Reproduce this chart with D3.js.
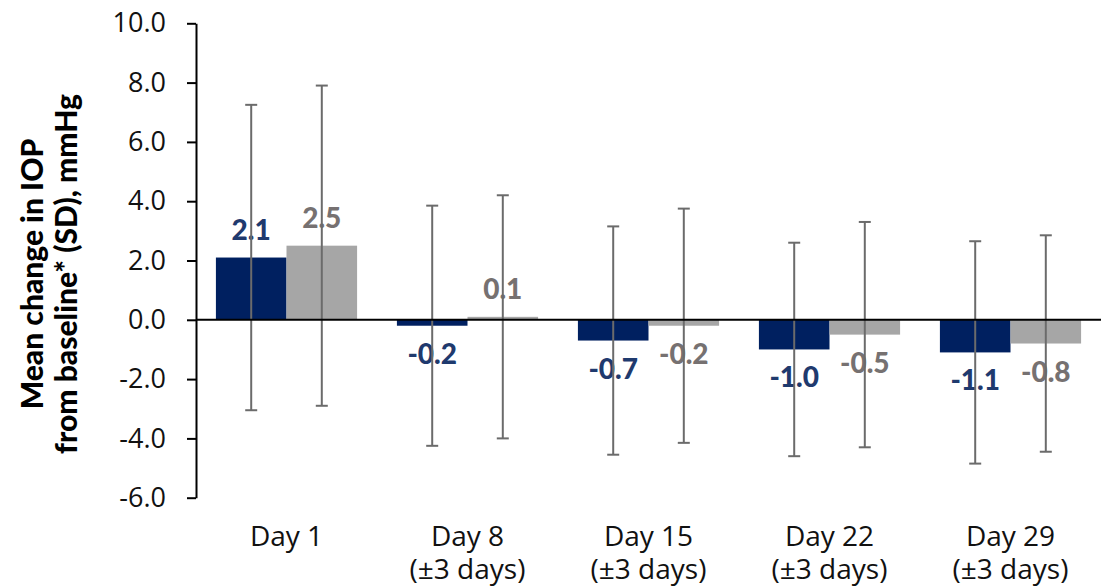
<!DOCTYPE html>
<html>
<head>
<meta charset="utf-8">
<script src="https://cdn.jsdelivr.net/npm/d3@7"></script>
<style>
  html, body { margin: 0; padding: 0; background: #ffffff; }
  svg { display: block; font-family: "Open Sans", Lato, sans-serif; }
</style>
</head>
<body>
<svg id="chart" width="1107" height="587"></svg>
<script>
// Visit labels (one entry per line of text under each group)
const categories = ["Day 1", "Day 8", "Day 15", "Day 22", "Day 29"];
const categorySubLabels = ["", "(\u00b13 days)", "(\u00b13 days)", "(\u00b13 days)", "(\u00b13 days)"];

// Two treatment arms: mean change from baseline and its SD
const seriesKeys = ["arm1", "arm2"];
const meanArm1 = [2.1, -0.2, -0.7, -1.0, -1.1];
const sdArm1   = [5.15, 4.05, 3.85, 3.6, 3.75];
const meanArm2 = [2.5, 0.1, -0.2, -0.5, -0.8];
const sdArm2   = [5.4, 4.1, 3.95, 3.8, 3.65];

// Y axis ticks
const yTicks = [-6, -4, -2, 0, 2, 4, 6, 8, 10];

const colors = { arm1: "#002060", arm2: "#A6A6A6" };
const labelColors = { arm1: "#1F3A6E", arm2: "#767171" };

const rows = categories.map((c, i) => ({
  category: c,
  sub: categorySubLabels[i],
  values: [
    { key: "arm1", mean: meanArm1[i], sd: sdArm1[i] },
    { key: "arm2", mean: meanArm2[i], sd: sdArm2[i] }
  ]
}));

const fmt = v => d3.format(".1f")(v).replace("\u2212", "-");

const svg = d3.select("#chart");

const x0 = d3.scaleBand()
  .domain(categories)
  .range([196, 1101])
  .paddingInner(0.22)
  .paddingOuter(0.11);

const x1 = d3.scaleBand()
  .domain(seriesKeys)
  .range([0, x0.bandwidth()])
  .padding(0);

const y = d3.scaleLinear()
  .domain([-6, 10])
  .range([497.7, 23.3]);

// Y axis
const yAxis = d3.axisLeft(y)
  .tickValues(yTicks)
  .tickFormat(fmt)
  .tickSize(9)
  .tickSizeOuter(0)
  .tickPadding(21);

const gy = svg.append("g")
  .attr("transform", "translate(196,0)")
  .call(yAxis);
gy.select(".domain").attr("stroke", "#000").attr("stroke-width", 2);
gy.selectAll(".tick line").attr("stroke", "#000").attr("stroke-width", 2);
gy.selectAll(".tick text")
  .attr("fill", "#111")
  .style("font-size", "27px")
  .style("font-family", "'Open Sans', Lato, sans-serif");

// Y axis title (two lines)
const title = svg.append("text")
  .attr("transform", "translate(0,274) rotate(-90)")
  .attr("text-anchor", "middle")
  .style("font-family", "Lato, 'Open Sans', sans-serif")
  .style("font-size", "30px")
  .style("font-weight", 900)
  .attr("fill", "#000");
title.append("tspan").attr("x", 0).attr("y", 43).text("Mean change in IOP");
title.append("tspan").attr("x", 0).attr("y", 77).text("from baseline* (SD), mmHg");

// Bars
const groups = svg.append("g")
  .selectAll("g")
  .data(rows)
  .join("g")
  .attr("transform", d => `translate(${x0(d.category)},0)`);

groups.selectAll("rect")
  .data(d => d.values)
  .join("rect")
  .attr("x", d => x1(d.key))
  .attr("width", x1.bandwidth())
  .attr("y", d => y(Math.max(0, d.mean)))
  .attr("height", d => Math.abs(y(d.mean) - y(0)))
  .attr("fill", d => colors[d.key]);

// Zero baseline
svg.append("line")
  .attr("x1", 196).attr("x2", 1101)
  .attr("y1", y(0)).attr("y2", y(0))
  .attr("stroke", "#000").attr("stroke-width", 2);

// Value labels
groups.selectAll("text.value")
  .data(d => d.values)
  .join("text")
  .attr("class", "value")
  .attr("x", d => x1(d.key) + x1.bandwidth() / 2)
  .attr("y", d => d.mean >= 0 ? y(d.mean) - 18 : y(d.mean) + 38)
  .attr("text-anchor", "middle")
  .style("font-family", "Lato, 'Open Sans', sans-serif")
  .style("font-size", "28px")
  .style("font-weight", 900)
  .attr("fill", d => labelColors[d.key])
  .text(d => fmt(d.mean));

// Error bars (mean ± SD)
const capHalf = 6;
const err = groups.selectAll("g.err")
  .data(d => d.values)
  .join("g")
  .attr("class", "err")
  .attr("stroke", "#6B6B6B")
  .attr("stroke-width", 2);

err.append("line")
  .attr("x1", d => x1(d.key) + x1.bandwidth() / 2)
  .attr("x2", d => x1(d.key) + x1.bandwidth() / 2)
  .attr("y1", d => y(d.mean + d.sd))
  .attr("y2", d => y(d.mean - d.sd));
err.append("line")
  .attr("x1", d => x1(d.key) + x1.bandwidth() / 2 - capHalf)
  .attr("x2", d => x1(d.key) + x1.bandwidth() / 2 + capHalf)
  .attr("y1", d => y(d.mean + d.sd))
  .attr("y2", d => y(d.mean + d.sd));
err.append("line")
  .attr("x1", d => x1(d.key) + x1.bandwidth() / 2 - capHalf)
  .attr("x2", d => x1(d.key) + x1.bandwidth() / 2 + capHalf)
  .attr("y1", d => y(d.mean - d.sd))
  .attr("y2", d => y(d.mean - d.sd));

// Category labels
const xl = svg.append("g")
  .selectAll("text")
  .data(rows)
  .join("text")
  .attr("text-anchor", "middle")
  .style("font-size", "28px")
  .attr("fill", "#111");
xl.append("tspan")
  .attr("x", d => x0(d.category) + x0.bandwidth() / 2)
  .attr("y", 546)
  .text(d => d.category);
xl.append("tspan")
  .attr("x", d => x0(d.category) + x0.bandwidth() / 2)
  .attr("y", 579)
  .text(d => d.sub);
</script>
</body>
</html>
